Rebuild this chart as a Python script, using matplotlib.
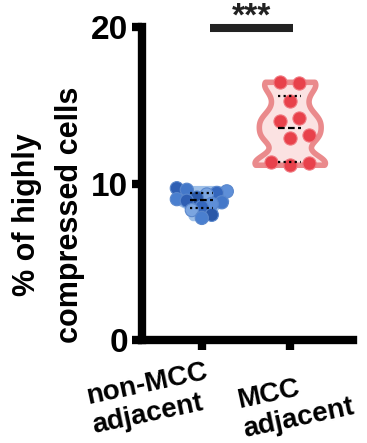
import numpy as np
import matplotlib
matplotlib.use('Agg')
import matplotlib.pyplot as plt
import matplotlib.transforms as mtransforms

plt.rcParams['font.family'] = ['Liberation Sans', 'DejaVu Sans']
plt.rcParams['font.weight'] = 'bold'

groups = ['non-MCC\nadjacent', 'MCC\nadjacent']
non_mcc = [9.7, 9.6, 9.5, 9.4, 9.3, 9.1, 9.0, 8.9, 8.8, 8.7, 8.5, 8.3, 8.0, 7.8]
mcc = [16.5, 16.4, 15.3, 14.2, 14.0, 13.1, 12.9, 11.4, 11.3, 11.2]
blue_shades = ['#2f5fb3', '#4478c9', '#5e8fd8', '#3567bd', '#7ba5e0', '#2a58a8', '#4a7fcf']
significance = '***'

fig = plt.figure(figsize=(3.67, 4.43), dpi=100)
ax = fig.add_axes([0.387, 0.2325, 0.575, 0.7065])
ax.set_xlim(-0.68, 1.72)
ax.set_ylim(0, 20)

px_x = 0.575 * 367 / 2.4   # pixels per x unit
px_y = 0.7065 * 443 / 20   # pixels per y unit


def swarm(values, step):
    # simple beeswarm: place each point at the smallest offset free of overlap
    placed = []
    offs = np.zeros(len(values))
    order = np.argsort(values)
    for i in order:
        y = values[i] * px_y
        for k in range(0, 40):
            cands = [0.0] if k == 0 else [k * step / 2, -k * step / 2]
            ok = None
            for c in cands:
                if all((c - px) ** 2 + (y - py) ** 2 >= step ** 2 for px, py in placed):
                    ok = c
                    break
            if ok is not None:
                placed.append((ok, y))
                offs[i] = ok / px_x
                break
    return offs


def draw_group(pos, vals, fill, edge, faces, dot_edge, step, width):
    vals = np.array(vals)
    vp = ax.violinplot([vals], positions=[pos], widths=width, bw_method=0.3,
                       showextrema=False)
    for b in vp['bodies']:
        b.set_facecolor(fill)
        b.set_edgecolor(edge)
        b.set_linewidth(4)
        b.set_alpha(1)
    q1, med, q3 = np.percentile(vals, [25, 50, 75], method='weibull')
    offs = swarm(vals, step)
    ax.scatter(pos + offs, vals, s=90, c=faces, edgecolors=dot_edge,
               linewidths=0.8, zorder=3)
    hw = 0.13
    ax.plot([pos - hw, pos + hw], [med, med], color='black', lw=1.6,
            ls=(0, (3, 1.5)), zorder=4)
    for q in (q1, q3):
        ax.plot([pos - hw, pos + hw], [q, q], color='black', lw=1.6,
                ls=(0, (1, 1.5)), zorder=4)


faces_blue = [blue_shades[i % len(blue_shades)] for i in range(len(non_mcc))]
draw_group(0, non_mcc, '#c3d8f2', '#9fc0e8', faces_blue, '#5a87cc', 10, 0.55)
draw_group(1, mcc, '#fbe2e2', '#ea8a8c', '#e8414b', '#f07880', 19, 0.8)

# significance bar
ax.plot([0.09, 1.034], [19.94, 19.94], color='#222222', lw=5.8,
        solid_capstyle='butt', clip_on=False)
ax.text(0.57, 20.1, significance, ha='center', va='baseline', fontsize=24,
        fontweight='bold', color='#222222', clip_on=False)

for s in ['top', 'right']:
    ax.spines[s].set_visible(False)
for s in ['left', 'bottom']:
    ax.spines[s].set_linewidth(6)
    ax.spines[s].set_capstyle('projecting')

ax.set_yticks([0, 10, 20])
ax.set_yticklabels(['0', '10', '20'], fontsize=24, fontweight='bold')
ax.tick_params(axis='both', direction='out', length=7, width=6, pad=3)

ax.set_xticks([0, 1])
labels = ax.set_xticklabels(groups, fontsize=20, fontweight='bold',
                            rotation=12, ha='center', va='center',
                            rotation_mode='anchor', multialignment='left',
                            linespacing=1.15)
shifts = [(-52, -45), (6, -50)]
for lab, (dx, dy) in zip(labels, shifts):
    lab.set_transform(lab.get_transform() +
                      mtransforms.ScaledTranslation(dx / 100, dy / 100, fig.dpi_scale_trans))

ax.set_ylabel('% of highly\ncompressed cells', fontsize=22, fontweight='bold',
              linespacing=1.55)
ax.yaxis.set_label_coords(-0.27, 0.40)

fig.savefig('out.png', dpi=100)
